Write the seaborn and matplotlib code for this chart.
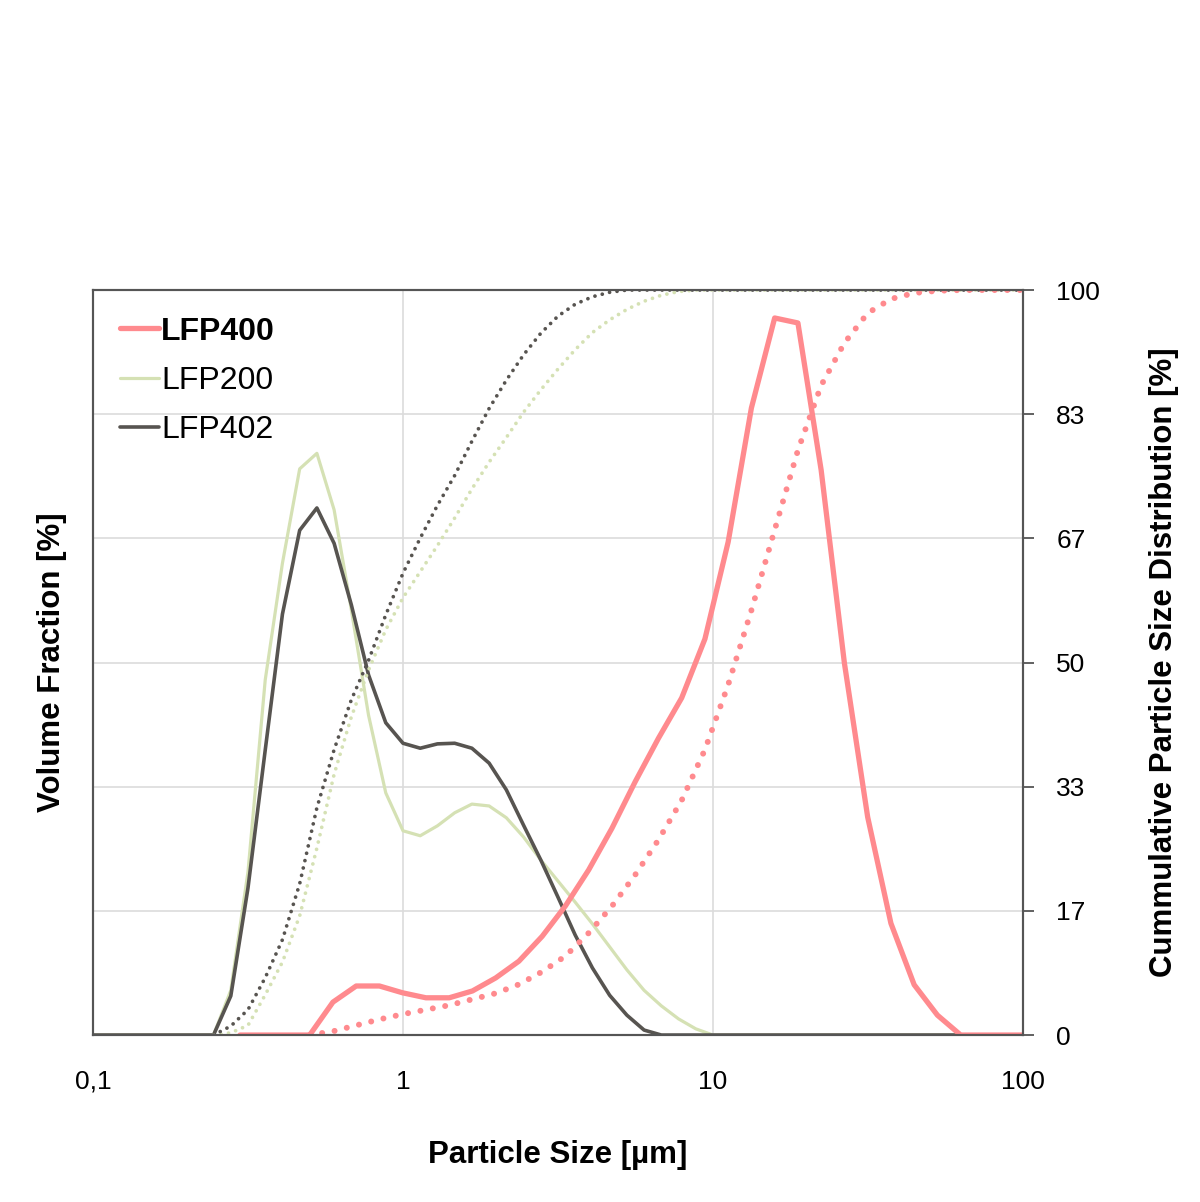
import matplotlib
matplotlib.use("Agg")
import matplotlib.pyplot as plt
import seaborn as sns
import pandas as pd

sns.set_style("white")
plt.rcParams['font.family'] = ['Liberation Sans', 'DejaVu Sans']
plt.rcParams['text.color'] = 'black'
plt.rcParams['axes.labelcolor'] = 'black'
plt.rcParams['xtick.color'] = 'black'
plt.rcParams['ytick.color'] = 'black'

# particle size grids (um)
size_400 = [0.2979, 0.3540, 0.4207, 0.5, 0.5942, 0.7063, 0.8394, 0.9976, 1.1857,
            1.4092, 1.6749, 1.9905, 2.3658, 2.8117, 3.3417, 3.9716, 4.7203, 5.610,
            6.668, 7.924, 9.418, 11.19, 13.30, 15.81, 18.79, 22.33, 26.54, 31.55,
            37.49, 44.56, 52.96, 62.95, 74.81, 88.91, 105.7]
size_200 = [0.1, 0.2448, 0.2783, 0.3162, 0.3594, 0.4084, 0.4642, 0.5275, 0.5995,
            0.6813, 0.7743, 0.8799, 1.0, 1.1365, 1.2915, 1.4678, 1.6681, 1.8957,
            2.1544, 2.4484, 2.7826, 3.1623, 3.5938, 4.0842, 4.6416, 5.2749, 5.9948,
            6.8129, 7.7426, 8.7992, 10.0, 100.0]

# volume fraction [%]
vol_400 = [0, 0, 0, 0, 0.53, 0.79, 0.79, 0.68, 0.60, 0.60, 0.71, 0.92, 1.19, 1.59,
           2.08, 2.66, 3.33, 4.08, 4.78, 5.43, 6.38, 7.94, 10.10, 11.55, 11.47,
           9.10, 5.99, 3.51, 1.80, 0.81, 0.32, 0, 0, 0, 0]
vol_200 = [0, 0, 0.72, 2.63, 5.72, 7.60, 9.12, 9.37, 8.46, 6.85, 5.15, 3.90, 3.29,
           3.21, 3.37, 3.58, 3.72, 3.69, 3.50, 3.19, 2.82, 2.48, 2.14, 1.79, 1.42,
           1.05, 0.72, 0.47, 0.26, 0.10, 0, 0]
vol_402 = [0, 0, 0.63, 2.37, 4.59, 6.78, 8.13, 8.49, 7.92, 6.93, 5.80, 5.03, 4.70,
           4.62, 4.69, 4.70, 4.62, 4.38, 3.95, 3.38, 2.82, 2.22, 1.61, 1.08, 0.64,
           0.32, 0.08, 0, 0, 0, 0, 0]

# cumulative distribution [%]
cum_400 = [None, None, None, 0, 0.5, 1.3, 2.1, 2.8, 3.4, 4.0, 4.8, 5.6, 6.8, 8.5,
           10.6, 13.7, 17.3, 21.5, 26.2, 31.5, 38.3, 47.0, 57.0, 67.8, 78.5, 87.2,
           92.9, 96.9, 98.8, 99.6, 99.9, 100, 100, 100, 100]
cum_200 = [None, 0, 0.3, 1.3, 5.4, 9.8, 16.0, 25.1, 35.0, 42.7, 49.0, 54.4, 58.7,
           62.2, 65.7, 69.4, 73.3, 76.9, 80.2, 83.6, 86.6, 89.4, 92.0, 94.3, 96.0,
           97.4, 98.5, 99.3, 99.8, 100, 100, 100]
cum_402 = [None, 0, 1.2, 3.4, 7.7, 12.8, 20.3, 30.5, 38.3, 45.0, 50.3, 56.4, 62.0,
           66.7, 71.1, 75.1, 79.7, 84.1, 87.9, 91.3, 94.2, 96.5, 98.1, 99.1, 99.7,
           100, 100, 100, 100, 100, 100, 100]

pink = "#FF8A8E"
green = "#D5E1B4"
grey = "#575450"

fig = plt.figure(figsize=(12, 12.02), dpi=100)
ax = fig.add_axes([0.0775, 0.1389, 0.775, 0.6198])
ax2 = ax.twinx()

df400 = pd.DataFrame({"size": size_400, "vol": vol_400, "cum": cum_400})
df200 = pd.DataFrame({"size": size_200, "vol": vol_200, "cum": cum_200})
df402 = pd.DataFrame({"size": size_200, "vol": vol_402, "cum": cum_402})

sns.lineplot(data=df200, x="size", y="vol", ax=ax, color=green, lw=2.3, label="LFP200")
sns.lineplot(data=df402, x="size", y="vol", ax=ax, color=grey, lw=2.6, label="LFP402")
sns.lineplot(data=df400, x="size", y="vol", ax=ax, color=pink, lw=3.8, label="LFP400")

dot_small = (0, (0.01, 2.0))
dot_big = (0, (0.01, 2.1))
for d, c, w, ls in [(df200, green, 2.7, dot_small), (df402, grey, 2.7, dot_small),
                    (df400, pink, 4.3, dot_big)]:
    dd = d.dropna()
    sns.lineplot(data=dd, x="size", y="cum", ax=ax2, color=c, lw=w,
                 linestyle=ls, dash_capstyle="round", legend=False)

ax.set_xscale("log")
ax.set_xlim(0.1, 100)
ax.set_ylim(0, 12)
ax2.set_ylim(0, 100)
ax.set_yticks(range(0, 13, 2))
ax.set_yticklabels([])
ax.set_xticks([0.1, 1, 10, 100])
ax.set_xticklabels(["0,1", "1", "10", "100"])
ax.minorticks_off()
ax.grid(True, color="#dcdcdc", lw=1.2)
ax.tick_params(axis="x", length=0, pad=25, labelsize=19)
ax.tick_params(axis="y", length=0)

rticks = [0, 100 / 6, 200 / 6, 50, 400 / 6, 500 / 6, 100]
ax2.set_yticks(rticks)
ax2.set_yticklabels(["0", "17", "33", "50", "67", "83", "100"])
ax2.tick_params(axis="y", length=8, width=1.3, color="#555555", pad=16, labelsize=19)

for a in (ax, ax2):
    for s in a.spines.values():
        s.set_color("#555555")
        s.set_linewidth(1.5)

ax.set_xlabel("Particle Size [µm]", fontsize=22.5, fontweight="bold", labelpad=33)
ax.set_ylabel("Volume Fraction [%]", fontsize=22.5, fontweight="bold", labelpad=15)
ax2.set_ylabel("Cummulative Particle Size Distribution [%]", fontsize=22.5,
               fontweight="bold", labelpad=35, rotation=90)

h, l = ax.get_legend_handles_labels()
order = [l.index("LFP400"), l.index("LFP200"), l.index("LFP402")]
leg = ax.legend([h[i] for i in order], [l[i] for i in order], loc="upper left",
                frameon=False, fontsize=23, handlelength=1.25, handletextpad=0.06,
                labelspacing=0.6, borderaxespad=0.43)
leg.get_texts()[0].set_fontweight("bold")

fig.savefig("out.png", dpi=100)
